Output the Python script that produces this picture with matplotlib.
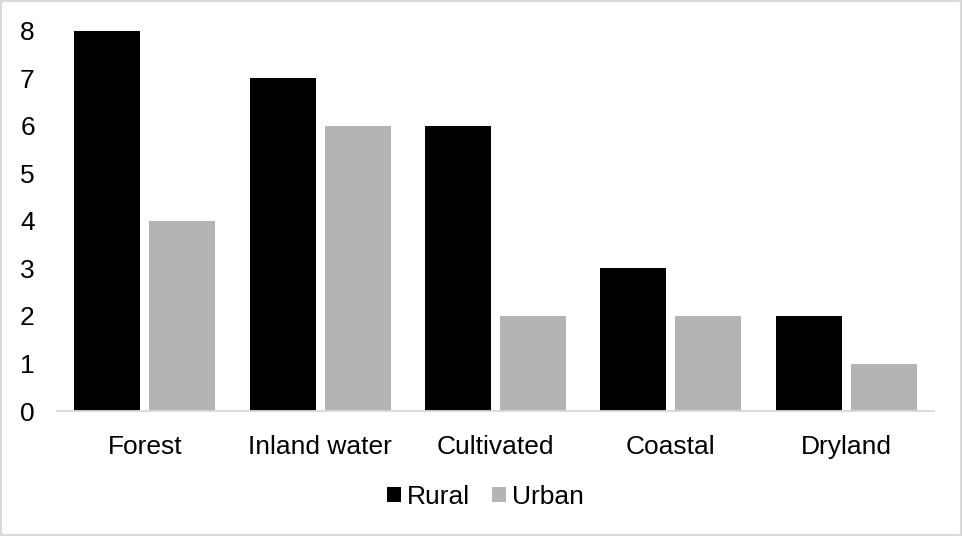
import matplotlib
matplotlib.use("Agg")
import matplotlib.pyplot as plt
import numpy as np
from matplotlib.patches import Patch, Rectangle

categories = ["Forest", "Inland water", "Cultivated", "Coastal", "Dryland"]
rural = [8, 7, 6, 3, 2]
urban = [4, 6, 2, 2, 1]
series_names = ["Rural", "Urban"]
colors = ["#000000", "#b4b4b4"]

plt.rcParams["font.family"] = ["Liberation Sans", "DejaVu Sans"]
fs = 19

fig = plt.figure(figsize=(9.63, 5.36), dpi=100)
ax = fig.add_axes([0.0592, 0.2332, 0.9107, 0.709])

x = np.arange(len(categories))
w = 0.376
off = 0.214
ax.bar(x - off, rural, width=w, color=colors[0])
ax.bar(x + off, urban, width=w, color=colors[1])

ax.set_xlim(-0.5, len(categories) - 0.5)
ax.set_ylim(0, 8)
ax.set_yticks(range(0, 9))
ax.set_xticks(x)
ax.set_xticklabels(categories)
ax.tick_params(axis="both", length=0, labelsize=fs, colors="#000000")
ax.tick_params(axis="y", pad=16)
ax.tick_params(axis="x", pad=17)
for s in ["top", "right", "left"]:
    ax.spines[s].set_visible(False)
ax.spines["bottom"].set_color("#d9d9d9")
ax.spines["bottom"].set_linewidth(1.3)

handles = [Patch(facecolor=c, edgecolor="none") for c in colors]
fig.legend(handles, series_names, loc="center", bbox_to_anchor=(0.504, 0.073),
           ncol=2, frameon=False, fontsize=fs, handlelength=0.53,
           handleheight=0.53, handletextpad=0.23, columnspacing=0.85)

fig.patches.append(Rectangle((0.0015, 0.002), 0.996, 0.996, transform=fig.transFigure,
                             fill=False, edgecolor="#d9d9d9", linewidth=1.5))

fig.savefig("out.png", dpi=100)
